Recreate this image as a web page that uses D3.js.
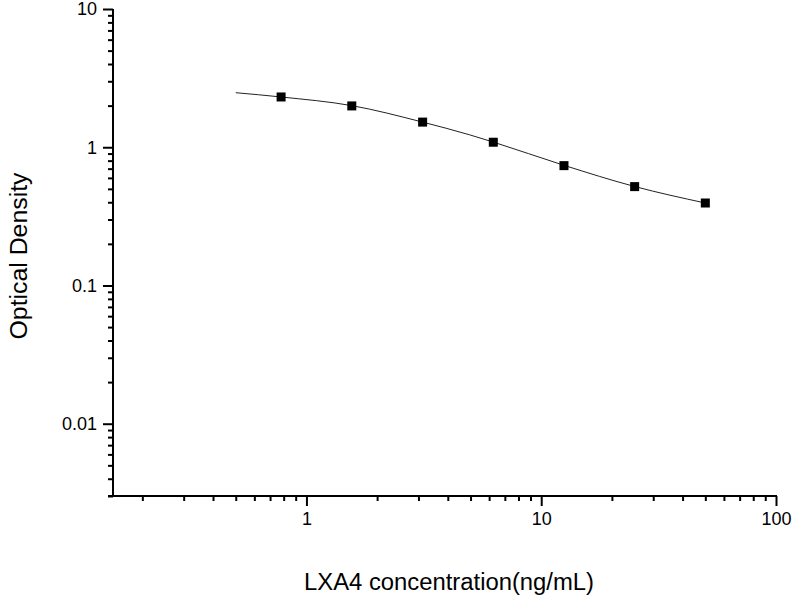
<!DOCTYPE html>
<html>
<head>
<meta charset="utf-8">
<script src="https://cdn.jsdelivr.net/npm/d3@7"></script>
<style>
  body { margin: 0; background: #fff; }
  text { font-family: "Liberation Sans", Arial, sans-serif; fill: #000; }
</style>
</head>
<body>
<svg id="chart" width="800" height="600"></svg>
<script>
// standard concentrations and measured OD
const concentration = [0.78, 1.56, 3.125, 6.25, 12.5, 25, 50];
const opticalDensity = [2.31, 1.99, 1.52, 1.087, 0.736, 0.519, 0.395];

// fitted curve
const curveX = [0.5, 0.78, 1.56, 3.125, 4.95, 6.25, 12.5, 25, 50];
const curveY = [2.48, 2.31, 2.0, 1.52, 1.23, 1.09, 0.74, 0.52, 0.395];

const xMajor = [1, 10, 100];
const yMajor = [0.01, 0.1, 1, 10];

const xAxisLabel = 'LXA4 concentration(ng/mL)';
const yAxisLabel = 'Optical Density';

const svg = d3.select('#chart');
const width = +svg.attr('width');
const height = +svg.attr('height');
const margin = { top: 9, right: 24, bottom: 104, left: 113 };
const innerWidth = width - margin.left - margin.right;
const innerHeight = height - margin.top - margin.bottom;

const g = svg.append('g')
  .attr('transform', `translate(${margin.left},${margin.top})`);

const xScale = d3.scaleLog()
  .domain([0.15, 100])
  .range([0, innerWidth]);

const yScale = d3.scaleLog()
  .domain([0.003, 10])
  .range([innerHeight, 0]);

// minor ticks: every 2..9 inside each decade
const minorTicks = (scale) => {
  const [a, b] = scale.domain();
  const out = [];
  for (let e = Math.floor(Math.log10(a)); e <= Math.ceil(Math.log10(b)); e++) {
    for (let m = 2; m <= 9; m++) {
      const v = m * Math.pow(10, e);
      if (v >= a && v <= b) out.push(v);
    }
  }
  return out;
};

const fmt = d => d3.format('~g')(d);

// x-axis
const xAxisG = g.append('g')
  .attr('transform', `translate(0,${innerHeight})`);
xAxisG.append('g')
  .call(d3.axisBottom(xScale).tickValues(minorTicks(xScale)).tickSize(5).tickFormat(''))
  .call(s => s.select('.domain').remove());
xAxisG.append('g')
  .call(d3.axisBottom(xScale).tickValues(xMajor).tickSize(10).tickPadding(6).tickFormat(fmt))
  .call(s => s.select('.domain').remove())
  .selectAll('text')
    .style('font-size', '18px');
xAxisG.append('line')
  .attr('x1', -5).attr('x2', innerWidth + 1)
  .attr('stroke', '#000').attr('stroke-width', 2);

// y-axis
const yAxisG = g.append('g');
yAxisG.append('g')
  .call(d3.axisLeft(yScale).tickValues(minorTicks(yScale)).tickSize(5).tickFormat(''))
  .call(s => s.select('.domain').remove());
yAxisG.append('g')
  .call(d3.axisLeft(yScale).tickValues(yMajor).tickSize(10).tickPadding(6).tickFormat(fmt))
  .call(s => s.select('.domain').remove())
  .selectAll('text')
    .style('font-size', '18px');
yAxisG.append('line')
  .attr('y1', 0).attr('y2', innerHeight + 1)
  .attr('stroke', '#000').attr('stroke-width', 2);

g.selectAll('.tick line').attr('stroke', '#000').attr('stroke-width', 2);

// axis labels
svg.append('text')
  .attr('x', 449)
  .attr('y', 590)
  .attr('text-anchor', 'middle')
  .attr('textLength', 290)
  .attr('lengthAdjust', 'spacingAndGlyphs')
  .style('font-size', '23px')
  .text(xAxisLabel);

svg.append('text')
  .attr('transform', 'translate(27,256) rotate(-90)')
  .attr('text-anchor', 'middle')
  .attr('textLength', 167)
  .attr('lengthAdjust', 'spacingAndGlyphs')
  .style('font-size', '23px')
  .text(yAxisLabel);

// fitted curve
const line = d3.line()
  .x(d => xScale(d[0]))
  .y(d => yScale(d[1]))
  .curve(d3.curveMonotoneX);

g.append('path')
  .datum(d3.zip(curveX, curveY))
  .attr('fill', 'none')
  .attr('stroke', '#222')
  .attr('stroke-width', 1)
  .attr('d', line);

// data points
const size = 9;
g.selectAll('rect.point')
  .data(d3.zip(concentration, opticalDensity))
  .enter().append('rect')
    .attr('class', 'point')
    .attr('x', d => xScale(d[0]) - size / 2)
    .attr('y', d => yScale(d[1]) - size / 2)
    .attr('width', size)
    .attr('height', size)
    .attr('fill', '#000');
</script>
</body>
</html>
